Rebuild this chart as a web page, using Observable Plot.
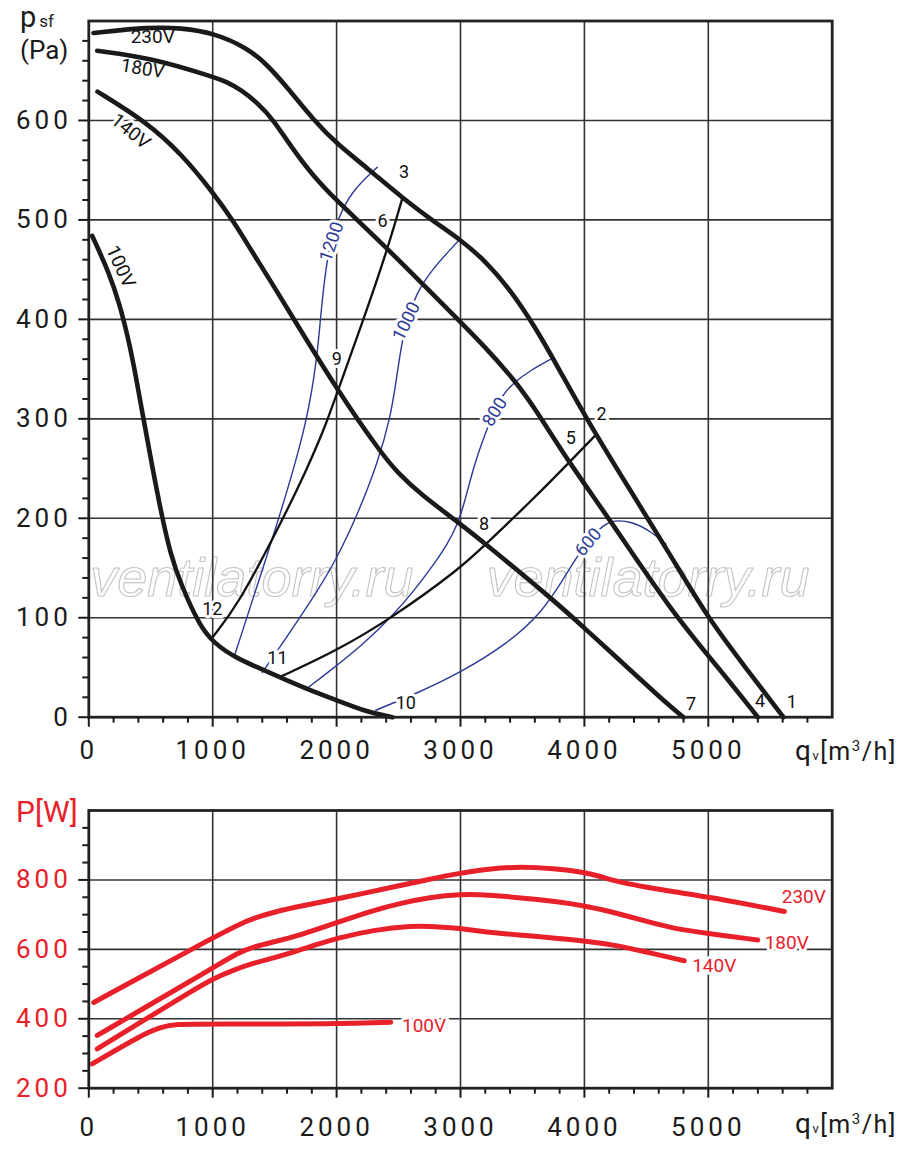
<!DOCTYPE html>
<html><head><meta charset="utf-8">
<script src="https://cdn.jsdelivr.net/npm/d3@7"></script>
<script src="https://cdn.jsdelivr.net/npm/@observablehq/plot@0.6"></script>
<style>
body{margin:0;background:#fff;}
#top,#bot{width:900px;}
#top svg,#bot svg{display:block;}
g[aria-label="x-axis tick label"] text, g[aria-label="y-axis tick label"] text{letter-spacing:4px;}
</style></head><body>
<div id="top"></div><div id="bot"></div>
<script>
// ---------- axis ticks ----------
const xMajor = [0,1000,2000,3000,4000,5000];
const xGrid = [1000,2000,3000,4000,5000];
const yMajorTop = [0,100,200,300,400,500,600];
const yGridTop = [100,200,300,400,500,600];
const yMajorBot = [200,400,600,800];
const yGridBot = [400,600,800];
const xMinor = d3.range(200,6000,200).filter(d => d % 1000 !== 0);
const yMinorTop = d3.range(20,700,20).filter(d => d % 100 !== 0);
const yMinorBot = d3.range(250,1000,50).filter(d => d % 200 !== 0);

// ---------- fan curves p_sf (Pa) vs q (m3/h) ----------
const fan230 = [[38,688],[500,694],[742,693],[1010,688],[1279,673],[1441,656],[1603,633],[1817,600],[2006,576],[2249,552],[2531,522],[2800,497],[3000,480],[3200,459],[3400,430],[3600,393],[3800,349],[4012,301],[4350,232],[4690,164],[5000,99],[5300,50],[5606,0]];
const fan180 = [[68,670],[498,663],[1000,644],[1110,639],[1225,631],[1360,618],[1494,600],[1630,574],[1817,543],[2006,519],[2141,503],[2410,471],[2706,434],[3003,397],[3200,372],[3406,343],[3530,323],[3649,301],[3877,256],[4214,197],[4699,107],[5080,50],[5400,0]];
const fan140 = [[70,629],[471,598],[750,566],[1000,528],[1171,498],[1308,470],[1480,436],[1656,400],[2006,329],[2356,266],[2491,246],[2679,224],[3003,194],[3204,174],[3730,120],[3998,90],[4400,44],[4699,10],[4800,0]];
const fan100 = [[27,484],[160,448],[250,415],[320,380],[380,343],[444,298],[512,252],[593,200],[660,164],[741,134],[902,90],[1010,75],[1171,60],[1548,40],[1750,29],[2001,17],[2249,5],[2450,0]];

// ---------- system curves ----------
const sys12to3 = [[997,80],[1199,112],[1522,188],[1764,250],[1920,296],[2006,327],[2195,392],[2410,470],[2531,522]];
const sys11to2 = [[1535,40],[2001,67],[2437,99],[3003,150],[3204,174],[3568,217],[3877,256],[4093,284]];

// ---------- iso-rpm lines ----------
const rpm1200 = [[1171,60],[1548,204],[1764,297],[1845,364],[1871,404],[1912,451],[1955,480],[2006,499],[2113,528],[2329,553]];
const rpm1000 = [[1400,45],[1562,74],[1800,118],[1993,157],[2180,207],[2330,255],[2437,303],[2478,336],[2518,370],[2560,397],[2640,425],[2760,449],[2976,478]];
const rpm800 = [[1750,28],[1952,47],[2221,74],[2437,100],[2625,127],[2787,154],[2895,174],[2976,194],[3029,214],[3110,254],[3204,287],[3270,307],[3339,324],[3433,337],[3570,349],[3730,360]];
const rpm600 = [[2316,7],[2666,25],[3003,45],[3380,74],[3649,104],[3837,140],[3931,160],[4050,180],[4160,194],[4241,198],[4376,197],[4537,187],[4658,174]];

// ---------- power P (W) ----------
const pow230 = [[40,447],[364,510],[1010,635],[1200,670],[1333,690],[1500,708],[1700,724],[2001,745],[2518,784],[2720,800],[3003,820],[3250,833],[3487,838],[3750,833],[3998,822],[4120,811],[4241,798],[4350,789],[4456,782],[4726,765],[4995,752],[5614,709]];
const pow180 = [[68,352],[500,442],[1010,548],[1200,590],[1333,608],[1500,622],[1700,640],[2001,677],[2300,713],[2518,733],[2750,750],[3003,759],[3200,758],[3600,745],[3998,727],[4250,705],[4456,685],[4726,659],[4995,646],[5399,627]];
const pow140 = [[68,313],[500,408],[850,484],[1010,517],[1171,541],[1333,561],[1500,576],[1656,592],[1850,615],[2001,632],[2300,656],[2599,668],[2841,665],[3003,660],[3200,650],[3380,644],[3998,625],[4250,612],[4456,596],[4806,567]];
const pow100 = [[27,270],[444,357],[579,375],[687,385],[1010,385],[2001,385],[2437,390]];

// ---------- labels ----------
const pointLabels = [
  {q:5674,p:15,t:"1"},{q:4139,p:305,t:"2"},{q:2545,p:548,t:"3"},{q:5418,p:16,t:"4"},
  {q:3891,p:280,t:"5"},{q:2370,p:499,t:"6"},{q:4860,p:13,t:"7"},{q:3191,p:194,t:"8"},
  {q:2001,p:360,t:"9"},{q:2558,p:14,t:"10"},{q:1522,p:59,t:"11"},{q:997,p:109,t:"12"}
];
const rpmLabels = [
  {q:1960,p:478,t:"1200",r:-71},{q:2564,p:398,t:"1000",r:-64},
  {q:3277,p:307,t:"800",r:-58},{q:4031,p:176,t:"600",r:-50}
];
const voltTop = [
  {q:516,p:684,t:"230V",r:0},{q:435,p:652,t:"180V",r:9},
  {q:338,p:589,t:"140V",r:39},{q:256,p:453,t:"100V",r:65}
];
const voltBot = [
  {q:5771,p:752,t:"230V"},{q:5633,p:618,t:"180V"},
  {q:5048,p:553,t:"140V"},{q:2706,p:380,t:"100V"}
];
const watermarks = [{q:1316,p:139,t:"ventilatorry.ru"},{q:4513,p:139,t:"ventilatorry.ru"}];

const BLUE = "#2b3a94", RED = "#e8202a", INK = "#1a1a1a";
const fmt = d3.format("d");
const lineOpt = (stroke, w) => ({curve:"basis", stroke, strokeWidth:w});
const halo = {stroke:"white", strokeWidth:6};

const topSvg = Plot.plot({
  width:900, height:770,
  marginLeft:88.3, marginRight:68.3, marginTop:20.5, marginBottom:53.3,
  x:{domain:[0,6000]}, y:{domain:[0,700]},
  style:{fontFamily:"Roboto, sans-serif", background:"#fff", color:INK},
  marks:[
    Plot.text(watermarks, {x:"q", y:"p", text:"t", fontSize:54, fontStyle:"italic", fontFamily:"Liberation Sans", fill:"none", stroke:"#c4c4c4", strokeWidth:1.1}),
    Plot.ruleX(xGrid, {stroke:"#333", strokeWidth:1.6}),
    Plot.ruleY(yGridTop, {stroke:"#333", strokeWidth:1.6}),
    Plot.line(rpm1200, lineOpt(BLUE,1.4)),
    Plot.line(rpm1000, lineOpt(BLUE,1.4)),
    Plot.line(rpm800, lineOpt(BLUE,1.4)),
    Plot.line(rpm600, lineOpt(BLUE,1.4)),
    Plot.line(sys12to3, lineOpt("#111",2.3)),
    Plot.line(sys11to2, lineOpt("#111",2.3)),
    Plot.text(rpmLabels, {x:"q", y:"p", text:"t", rotate:"r", fontSize:18, fill:BLUE, ...halo}),
    Plot.text(pointLabels, {x:"q", y:"p", text:"t", fontSize:18, fill:"#111", ...halo}),
    Plot.text(voltTop, {x:"q", y:"p", text:"t", rotate:"r", fontSize:19, fill:"#111", ...halo}),
    Plot.line(fan230, lineOpt(INK,4.6)),
    Plot.line(fan180, lineOpt(INK,4.6)),
    Plot.line(fan140, lineOpt(INK,4.6)),
    Plot.line(fan100, lineOpt(INK,4.6)),
    Plot.frame({stroke:"#222", strokeWidth:2.8}),
    Plot.axisX({ticks:xMinor, tickSize:6, tickFormat:()=>"", strokeWidth:2, label:null}),
    Plot.axisX({ticks:xMajor, tickSize:10, tickPadding:13, tickFormat:fmt, fontSize:26, strokeWidth:2, label:null}),
    Plot.axisY({ticks:yMinorTop, tickSize:6, tickFormat:()=>"", strokeWidth:2, label:null}),
    Plot.axisY({ticks:yMajorTop, tickSize:10, tickPadding:7, tickFormat:fmt, fontSize:26, strokeWidth:2, label:null})
  ]
});
document.getElementById("top").appendChild(topSvg);

const botSvg = Plot.plot({
  width:900, height:389,
  marginLeft:88.3, marginRight:68.3, marginTop:40, marginBottom:71.3,
  x:{domain:[0,6000]}, y:{domain:[200,1000]},
  style:{fontFamily:"Roboto, sans-serif", background:"#fff", color:INK},
  marks:[
    Plot.ruleX(xGrid, {stroke:"#333", strokeWidth:1.6}),
    Plot.ruleY(yGridBot, {stroke:"#333", strokeWidth:1.6}),
    Plot.text(voltBot, {x:"q", y:"p", text:"t", fontSize:19, fill:RED, ...halo}),
    Plot.line(pow230, lineOpt(RED,5)),
    Plot.line(pow180, lineOpt(RED,5)),
    Plot.line(pow140, lineOpt(RED,5)),
    Plot.line(pow100, lineOpt(RED,5)),
    Plot.frame({stroke:"#222", strokeWidth:2.8}),
    Plot.axisX({ticks:xMinor, tickSize:6, tickFormat:()=>"", strokeWidth:2, label:null}),
    Plot.axisX({ticks:xMajor, tickSize:10, tickPadding:19, tickFormat:fmt, fontSize:26, strokeWidth:2, label:null}),
    Plot.axisY({ticks:yMinorBot, tickSize:6, tickFormat:()=>"", strokeWidth:2, label:null}),
    Plot.axisY({ticks:yMajorBot, tickSize:10, tickPadding:7, tickFormat:fmt, fontSize:26, strokeWidth:2, stroke:INK, fill:RED, label:null})
  ]
});
document.getElementById("bot").appendChild(botSvg);

// ---------- axis titles ----------
function qTitle(svg, x, y, color) {
  const t = d3.select(svg).append("text").attr("x", x).attr("y", y).attr("text-anchor","start")
    .attr("fill", color).style("font-family","Roboto, sans-serif").style("letter-spacing","1.5px");
  t.append("tspan").attr("font-size",28).text("q");
  t.append("tspan").attr("font-size",13).text("v");
  t.append("tspan").attr("font-size",25).text("[m");
  t.append("tspan").attr("font-size",15).attr("dy",-9).text("3");
  t.append("tspan").attr("font-size",25).attr("dy",9).text("/h]");
}
const ts = d3.select(topSvg);
const pt = ts.append("text").attr("x",20).attr("y",27).attr("text-anchor","start").attr("fill",INK).style("font-family","Roboto, sans-serif");
pt.append("tspan").attr("font-size",29).text("p");
pt.append("tspan").attr("font-size",17).attr("dx",3).text("sf");
ts.append("text").attr("x",20).attr("y",59).attr("text-anchor","start").attr("fill",INK).attr("font-size",26)
  .style("font-family","Roboto, sans-serif").text("(Pa)");
qTitle(topSvg, 795, 760, INK);

d3.select(botSvg).append("text").attr("x",16).attr("y",52).attr("text-anchor","start").attr("fill",RED).attr("font-size",30)
  .style("font-family","Roboto, sans-serif").text("P[W]");
qTitle(botSvg, 795, 363, INK);
</script>
</body></html>
